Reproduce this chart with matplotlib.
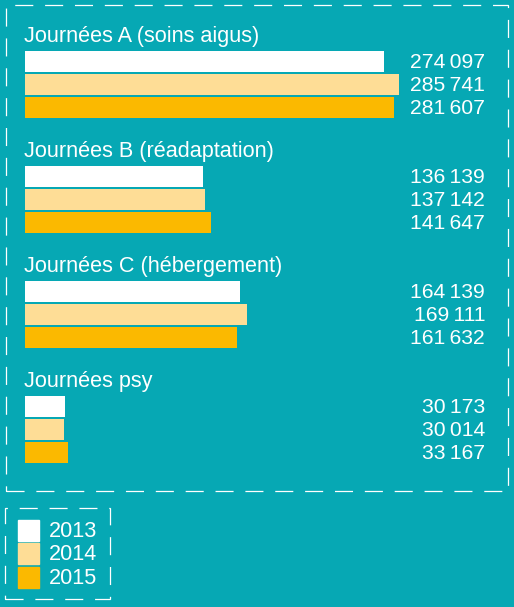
import matplotlib.pyplot as plt
from matplotlib.patches import Rectangle

plt.rcParams['font.family'] = ['Liberation Sans', 'DejaVu Sans']
plt.rcParams['lines.scale_dashes'] = False

# data
categories = ["Journées A (soins aigus)", "Journées B (réadaptation)",
              "Journées C (hébergement)", "Journées psy"]
years = ["2013", "2014", "2015"]
v2013 = [274097, 136139, 164139, 30173]
v2014 = [285741, 137142, 169111, 30014]
v2015 = [281607, 141647, 161632, 33167]

bg = "#06a8b4"
colors = ["#ffffff", "#fedd96", "#fbb900"]

W, H = 514, 607
fig = plt.figure(figsize=(W / 100, H / 100), dpi=100, facecolor=bg)
ax = fig.add_axes([0, 0, 1, 1])
ax.set_facecolor(bg)
ax.axis("off")

# px per unit along x, bars start at x=25 px
s = 0.00131
x0 = 25
ax.set_xlim(-x0 / s, (W - x0) / s)
ax.set_ylim(H, 0)

def px(x):
    return (x - x0) / s

series = [v2013, v2014, v2015]
for i, cat in enumerate(categories):
    top = 51 + 115 * i
    ax.text(px(24), top - 9, cat, color="white", fontsize=15.6,
            ha="left", va="baseline")
    for j, vals in enumerate(series):
        y = top + 23.2 * j
        ax.barh(y, vals[i], height=21, left=0, align="edge", color=colors[j])
        lbl = f"{vals[i]:,}".replace(",", "\u2009")
        ax.text(px(485), y + 11.5, lbl, color="white", fontsize=15.2,
                ha="right", va="center")

# dashed frames
def frame(x1, y1, x2, y2):
    r = Rectangle((x1 / W, 1 - y2 / H), (x2 - x1) / W, (y2 - y1) / H,
                  transform=fig.transFigure, fill=False, edgecolor="white",
                  linewidth=0.9, linestyle=(0, (13, 8.5)))
    fig.patches.append(r)

frame(6, 5, 508, 491)
frame(5, 508, 110, 599)

# legend
for j, yr in enumerate(years):
    y = 520 + 23.3 * j
    ax.add_patch(Rectangle((px(18), y), 21 / s, 21, color=colors[j]))
    ax.text(px(49), y + 11.5, yr, color="white", fontsize=15.6,
            ha="left", va="center")

fig.savefig("out.png", dpi=100, facecolor=bg)
